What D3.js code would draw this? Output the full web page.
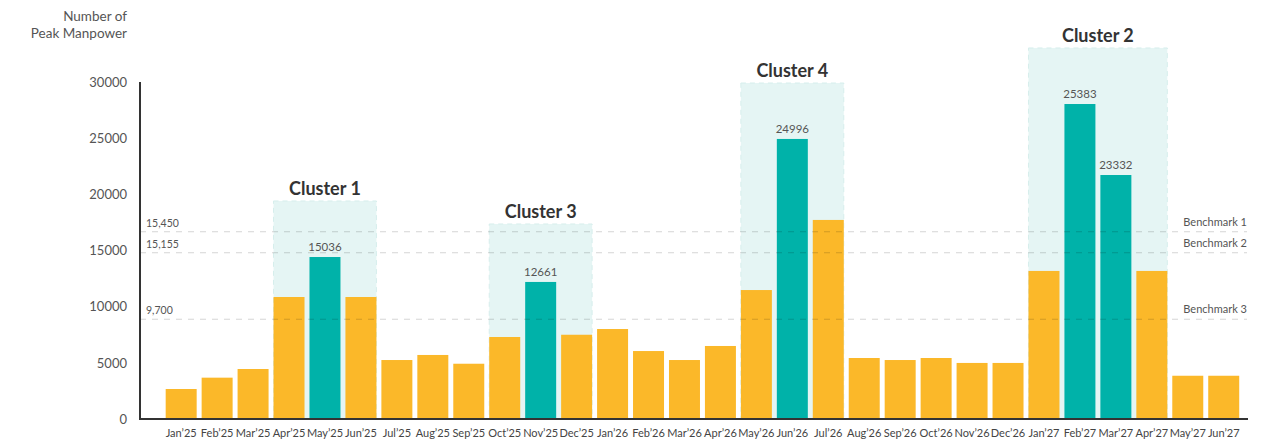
<!DOCTYPE html>
<html>
<head>
<meta charset="utf-8">
<script src="https://cdn.jsdelivr.net/npm/d3@7"></script>
<style>
  body { margin: 0; background: #fff; }
  svg { font-family: Lato, "Open Sans", sans-serif; display: block; }
</style>
</head>
<body>
<div id="chart"></div>
<script>
'use strict';

const months = ['Jan’25', 'Feb’25', 'Mar’25', 'Apr’25', 'May’25', 'Jun’25', 'Jul’25', 'Aug’25', 'Sep’25', 'Oct’25',
    'Nov’25', 'Dec’25', 'Jan’26', 'Feb’26', 'Mar’26', 'Apr’26', 'May’26', 'Jun’26', 'Jul’26', 'Aug’26',
    'Sep’26', 'Oct’26', 'Nov’26', 'Dec’26', 'Jan’27', 'Feb’27', 'Mar’27', 'Apr’27', 'May’27', 'Jun’27'];

// bar heights
const manpower = [2670, 3680, 4450, 10860, 14420, 10860, 5250, 5700, 4920, 7300,
    12200, 7500, 8010, 6050, 5250, 6500, 11480, 24930, 17720, 5430,
    5250, 5430, 4990, 4990, 13180, 28040, 21720, 13180, 3850, 3850];

// peak months and the numbers printed above them
const peakMonths = ['May’25', 'Nov’25', 'Jun’26', 'Feb’27', 'Mar’27'];
const peakLabels = ['15036', '12661', '24996', '25383', '23332'];

const clusterNames = ['Cluster 1', 'Cluster 3', 'Cluster 4', 'Cluster 2'];
const clusterFrom = ['Apr’25', 'Oct’25', 'May’26', 'Jan’27'];
const clusterTo = ['Jun’25', 'Dec’25', 'Jul’26', 'Apr’27'];
const clusterTop = [19410, 17360, 29910, 33030];

const benchmarkLevels = [16670, 14800, 8880];
const benchmarkValues = ['15,450', '15,155', '9,700'];
const benchmarkNames = ['Benchmark 1', 'Benchmark 2', 'Benchmark 3'];

const yTicks = [0, 5000, 10000, 15000, 20000, 25000, 30000];

const size = { width: 1272, height: 440 };
const orange = '#fbb829';
const teal = '#00b2a9';

function init() {
    const svg = d3.select('#chart')
        .append('svg')
        .attr('width', size.width)
        .attr('height', size.height);

    const x = d3.scaleBand()
        .domain(months)
        .range([163.2, 1241.7])
        .paddingInner(0.138)
        .paddingOuter(0.069);

    const y = d3.scaleLinear()
        .domain([0, 30000])
        .range([419, 82]);

    // cluster backgrounds
    const clusters = clusterNames.map((name, i) => ({
        name: name,
        x0: x(clusterFrom[i]),
        x1: x(clusterTo[i]) + x.bandwidth(),
        top: clusterTop[i]
    }));

    svg.selectAll('.cluster')
        .data(clusters)
        .enter()
        .append('rect')
        .attr('class', 'cluster')
        .attr('x', d => d.x0)
        .attr('y', d => y(d.top))
        .attr('width', d => d.x1 - d.x0)
        .attr('height', d => y(0) - y(d.top))
        .style('fill', '#e5f5f4')
        .style('stroke', '#d6eeec')
        .style('stroke-dasharray', '5,4');

    svg.selectAll('.cluster-title')
        .data(clusters)
        .enter()
        .append('text')
        .attr('class', 'cluster-title')
        .attr('x', d => (d.x0 + d.x1) / 2)
        .attr('y', d => y(d.top) - 6)
        .attr('text-anchor', 'middle')
        .style('font-size', '18px')
        .style('font-weight', 'bold')
        .style('fill', '#333')
        .text(d => d.name);

    // bars
    const bars = months.map((m, i) => ({ month: m, value: manpower[i], peak: peakMonths.includes(m) }));

    svg.selectAll('.bar')
        .data(bars)
        .enter()
        .append('rect')
        .attr('class', 'bar')
        .attr('x', d => x(d.month))
        .attr('y', d => y(d.value))
        .attr('width', x.bandwidth())
        .attr('height', d => y(0) - y(d.value))
        .style('fill', d => d.peak ? teal : orange);

    svg.selectAll('.peak-label')
        .data(peakMonths)
        .enter()
        .append('text')
        .attr('class', 'peak-label')
        .attr('x', d => x(d) + x.bandwidth() / 2)
        .attr('y', d => y(manpower[months.indexOf(d)]) - 6)
        .attr('text-anchor', 'middle')
        .style('font-size', '11.5px')
        .style('fill', '#555')
        .text((d, i) => peakLabels[i]);

    // benchmark lines
    const bench = svg.selectAll('.benchmark')
        .data(benchmarkLevels)
        .enter()
        .append('g')
        .attr('class', 'benchmark');

    bench.append('line')
        .attr('x1', 140)
        .attr('x2', 1247)
        .attr('y1', d => y(d))
        .attr('y2', d => y(d))
        .style('stroke', 'rgba(0,0,0,0.17)')
        .style('stroke-width', 1)
        .style('stroke-dasharray', '6,6');

    bench.append('text')
        .attr('x', 146)
        .attr('y', d => y(d) - 5)
        .style('font-size', '10.5px')
        .style('fill', '#555')
        .text((d, i) => benchmarkValues[i]);

    bench.append('text')
        .attr('x', 1247)
        .attr('y', d => y(d) - 6)
        .attr('text-anchor', 'end')
        .style('font-size', '11px')
        .style('fill', '#555')
        .text((d, i) => benchmarkNames[i]);

    // axes
    const yAxis = svg.append('g')
        .attr('transform', 'translate(140,0)')
        .call(d3.axisLeft(y).tickValues(yTicks).tickSize(0).tickPadding(13).tickFormat(d3.format('d')));
    yAxis.select('.domain').remove();
    yAxis.selectAll('text')
        .style('font-size', '13px')
        .style('font-family', 'Lato, sans-serif')
        .style('fill', '#555');

    svg.append('line')
        .attr('x1', 140).attr('x2', 140)
        .attr('y1', y(30000)).attr('y2', y(0) + 1)
        .style('stroke', '#333')
        .style('stroke-width', 2);

    const xAxis = svg.append('g')
        .attr('transform', `translate(0,${y(0)})`)
        .call(d3.axisBottom(x).tickSize(0).tickPadding(10));
    xAxis.select('.domain').remove();
    xAxis.selectAll('text')
        .style('font-size', '11px')
        .style('font-family', 'Lato, sans-serif')
        .style('fill', '#444');

    svg.append('line')
        .attr('x1', 139).attr('x2', 1248)
        .attr('y1', y(0)).attr('y2', y(0))
        .style('stroke', '#333')
        .style('stroke-width', 2);

    // axis title
    svg.append('text')
        .attr('x', 127)
        .attr('y', 21)
        .attr('text-anchor', 'end')
        .style('font-size', '13.5px')
        .style('fill', '#555')
        .text('Number of');
    svg.append('text')
        .attr('x', 127)
        .attr('y', 38)
        .attr('text-anchor', 'end')
        .style('font-size', '13.5px')
        .style('fill', '#555')
        .text('Peak Manpower');
}

init();
</script>
</body>
</html>
